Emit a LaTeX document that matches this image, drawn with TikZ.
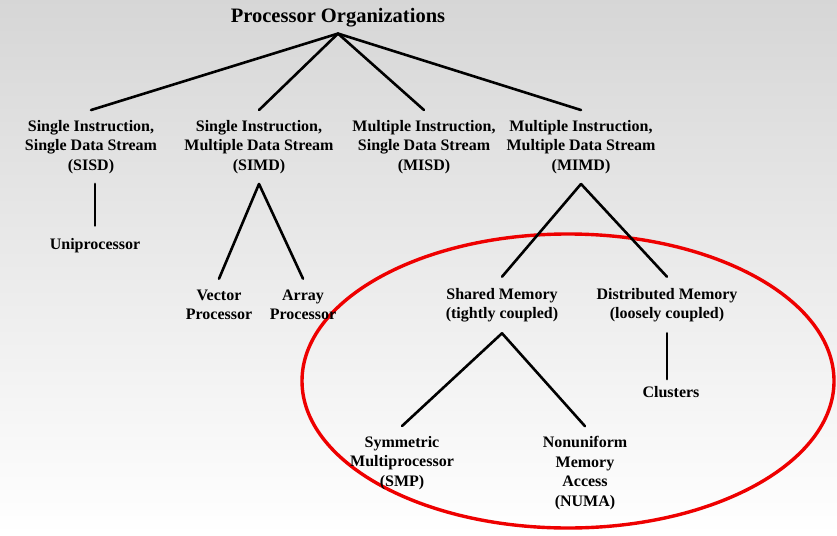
\documentclass[tikz,border=0pt]{standalone}
\usepackage{fontspec}
\setmainfont{Liberation Serif}
\definecolor{ringred}{RGB}{238,0,0}

\begin{document}
\begin{tikzpicture}[x=1pt,y=-1pt,line cap=round,line join=round,
  lbl/.style={font=\fontsize{16}{19.5}\selectfont\bfseries,align=center,inner xsep=2pt,inner ysep=10pt},
  link/.style={black,line width=2.6pt}]
\useasboundingbox (0,0) rectangle (837,535);
\shade[top color=black!16,bottom color=white] (0,0) rectangle (837,535);
% red ring round the MIMD subtree
\draw[ringred,line width=3.4pt] (568,381) ellipse [x radius=266,y radius=147];
\node[lbl,font=\fontsize{20.5}{22}\selectfont\bfseries,inner ysep=6pt] (root) at (338,18) {Processor Organizations};
\node[lbl] (sisd) at (91,147) {Single Instruction,\\Single Data Stream\\(SISD)};
\node[lbl] (simd) at (259,147) {Single Instruction,\\Multiple Data Stream\\(SIMD)};
\node[lbl] (misd) at (424,147) {Multiple Instruction,\\Single Data Stream\\(MISD)};
\node[lbl] (mimd) at (581,147) {Multiple Instruction,\\Multiple Data Stream\\(MIMD)};
\node[lbl,inner ysep=13pt] (uni) at (95,246) {Uniprocessor};
\node[lbl,inner ysep=11pt] (vec) at (219,305) {Vector\\Processor};
\node[lbl,inner ysep=11pt] (arr) at (303,305) {Array\\Processor};
\node[lbl,inner ysep=11pt] (shm) at (502,305) {Shared Memory\\(tightly coupled)};
\node[lbl,inner ysep=11pt] (dist) at (667,305) {Distributed Memory\\(loosely coupled)};
\node[lbl] (smp) at (402,463) {Symmetric\\Multiprocessor\\(SMP)};
\node[lbl] (numa) at (585,473) {Nonuniform\\Memory\\Access\\(NUMA)};
\node[lbl,inner ysep=7pt] (clu) at (671,392) {Clusters};
\foreach \kid in {sisd,simd,misd,mimd}
  \draw[link] (root.south) -- (\kid.north);
\draw[link] (uni.north |- sisd.south) -- (uni.north);
\draw[link] (simd.south) -- (vec.north);
\draw[link] (simd.south) -- (arr.north);
\draw[link] (mimd.south) -- (shm.north);
\draw[link] (mimd.south) -- (dist.north);
\draw[link] (shm.south) -- (smp.north);
\draw[link] (shm.south) -- (numa.north);
\draw[link] (dist.south) -- (dist.south |- clu.north);
\end{tikzpicture}
\end{document}
